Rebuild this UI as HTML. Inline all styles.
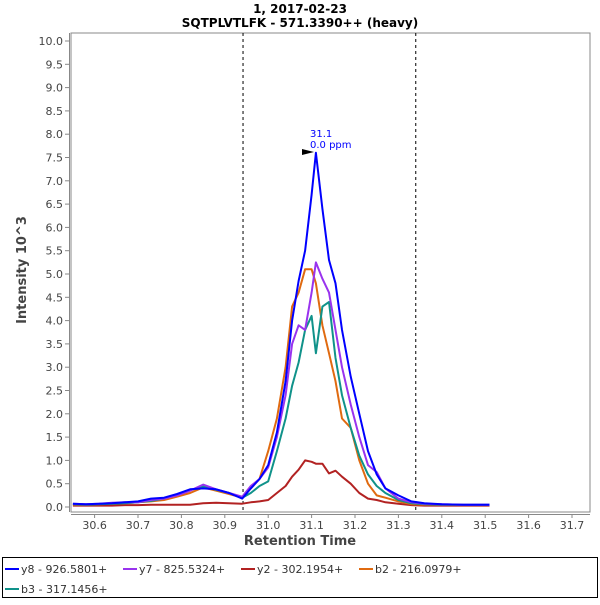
<!DOCTYPE html>
<html><head><meta charset="utf-8"><style>
body{margin:0;background:#fff;font-family:"Liberation Sans","DejaVu Sans",sans-serif;}
svg text{font-family:"DejaVu Sans","Liberation Sans",sans-serif;}
</style></head><body>
<svg id="chart" width="600" height="600" xmlns="http://www.w3.org/2000/svg">
<text x="300" y="13" text-anchor="middle" font-size="12" font-weight="bold" fill="#000">1, 2017-02-23</text>
<text x="300" y="27" text-anchor="middle" font-size="12" font-weight="bold" fill="#000">SQTPLVTLFK - 571.3390++ (heavy)</text>
<rect x="71" y="33" width="519" height="479" fill="#fff" stroke="#888"/>
<g id="axes"></g>
<g id="series"></g>
<text x="310" y="137" font-size="10" fill="#0000ff">31.1</text>
<text x="310" y="148" font-size="10" fill="#0000ff">0.0 ppm</text>
<polygon points="302,149 314,152 302,155" fill="#000"/>
<text x="300" y="545" text-anchor="middle" font-size="13" font-weight="bold" fill="#444">Retention Time</text>
<text transform="translate(26,270) rotate(-90)" text-anchor="middle" font-size="13" font-weight="bold" fill="#444">Intensity 10^3</text>
<rect x="2.5" y="557.5" width="595" height="40" fill="#fff" stroke="#000"/>
<g id="legend"></g>
</svg>
<script>
const times=[30.55,30.58,30.61,30.64,30.67,30.70,30.73,30.76,30.79,30.82,30.85,30.88,30.91,30.94,30.96,30.98,31.00,31.02,31.04,31.055,31.07,31.085,31.10,31.11,31.125,31.14,31.155,31.17,31.19,31.21,31.23,31.25,31.27,31.30,31.33,31.36,31.40,31.45,31.51];
const y8=[.07,.06,.07,.08,.1,.12,.18,.2,.28,.38,.4,.38,.3,.18,.4,.6,.9,1.6,2.7,4.0,4.85,5.5,6.7,7.6,6.4,5.3,4.8,3.8,2.8,2.0,1.2,.7,.4,.25,.12,.08,.06,.05,.05];
const y7=[.07,.06,.07,.09,.1,.1,.15,.18,.25,.35,.48,.38,.3,.22,.45,.6,.85,1.5,2.4,3.5,3.9,3.8,4.6,5.25,4.9,4.6,3.8,3.0,2.2,1.5,.9,.75,.4,.18,.1,.07,.06,.05,.05];
const y2=[.03,.03,.03,.03,.04,.04,.05,.05,.05,.05,.08,.09,.08,.07,.1,.12,.15,.3,.45,.65,.8,1.0,.97,.93,.93,.72,.78,.65,.5,.3,.18,.15,.1,.07,.04,.03,.03,.03,.03];
const b2=[.05,.05,.06,.07,.08,.1,.12,.15,.22,.3,.42,.35,.28,.2,.4,.6,1.2,1.9,3.0,4.3,4.6,5.1,5.1,4.8,3.9,3.3,2.7,1.9,1.7,1.0,.5,.25,.2,.12,.06,.05,.05,.04,.04];
const b3=[.06,.05,.06,.07,.08,.1,.13,.18,.27,.36,.44,.37,.3,.2,.3,.45,.55,1.2,1.9,2.6,3.1,3.8,4.1,3.3,4.3,4.4,3.2,2.4,1.7,1.1,.7,.45,.3,.15,.08,.06,.05,.05,.05];
const seriesNames=["y8 - 926.5801+","y7 - 825.5324+","y2 - 302.1954+","b2 - 216.0979+","b3 - 317.1456+"];
const seriesColors=["#0000ff","#9933ee","#b22222","#e06a10","#10928a"];
const xTicks=[30.6,30.7,30.8,30.9,31.0,31.1,31.2,31.3,31.4,31.5,31.6,31.7];
const yTicks=[0,0.5,1,1.5,2,2.5,3,3.5,4,4.5,5,5.5,6,6.5,7,7.5,8,8.5,9,9.5,10];
const dashedTimes=[30.942,31.34];
const NS="http://www.w3.org/2000/svg";
const X=t=>94.6+(t-30.6)*434;
const Y=v=>507-v*46.6;
function mk(tag,attrs,parent){const e=document.createElementNS(NS,tag);for(const k in attrs)e.setAttribute(k,attrs[k]);parent.appendChild(e);return e;}
const ax=document.getElementById('axes');
xTicks.forEach(t=>{
  const l=mk('line',{x1:X(t),x2:X(t),y1:514,y2:518,stroke:'#888'},ax);
  
  
  const tx=mk('text',{x:X(t),y:529,'text-anchor':'middle','font-size':11,fill:'#444'},ax);
  tx.textContent=t.toFixed(1);
  
  
});
mk('line',{x1:71,x2:590,y1:514.5,y2:514.5,stroke:'#888'},ax);
yTicks.forEach(v=>{
  const l=mk('line',{x1:65,x2:69,y1:Y(v),y2:Y(v),stroke:'#888'},ax);
  
  
  const tx=mk('text',{x:63,y:Y(v)+4,'text-anchor':'end','font-size':11,fill:'#444'},ax);
  tx.textContent=v.toFixed(1);
  
  
});
mk('line',{x1:69.5,x2:69.5,y1:33,y2:512,stroke:'#888'},ax);
dashedTimes.forEach(t=>{
  const l=mk('line',{x1:X(t),x2:X(t),y1:33,y2:512,stroke:'#000','stroke-dasharray':'3,3'},ax);
  
  
});
const sg=document.getElementById('series');
const data=[y8,y7,y2,b2,b3];
const order=[2,3,4,1,0];
order.forEach(i=>{
  const pts=times.map((t,j)=>X(t).toFixed(1)+','+Y(data[i][j]).toFixed(1)).join(' ');
  const p=mk('polyline',{points:pts,fill:'none',stroke:seriesColors[i],'stroke-width':2,'stroke-linejoin':'round'},sg);
  
  
});
const lg=document.getElementById('legend');
const pos=[[5,569],[123,569],[241,569],[359,569],[5,589]];
seriesNames.forEach((n,i)=>{
  const [x,y]=pos[i];
  const g=mk('g',{},lg);
  
  
  mk('line',{x1:x,x2:x+14,y1:y,y2:y,stroke:seriesColors[i],'stroke-width':2},g);
  const tx=mk('text',{x:x+16,y:y+4,'font-size':11,fill:'#333'},g);
  tx.textContent=n;
});
</script>
</body></html>
